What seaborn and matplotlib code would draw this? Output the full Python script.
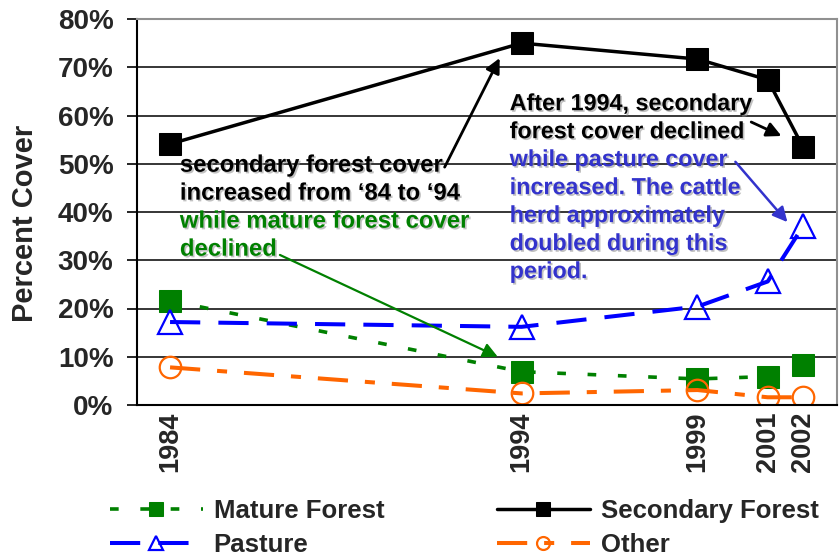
import matplotlib
matplotlib.use("Agg")
import matplotlib.pyplot as plt
import matplotlib.patheffects as pe
import seaborn as sns

# Land cover share (%) by survey year
years = [1984, 1994, 1999, 2001, 2002]
mature_forest = [21.6, 6.9, 5.4, 5.9, 8.3]
secondary_forest = [54.1, 75.0, 71.7, 67.4, 53.5]
pasture = [17.2, 16.2, 20.4, 25.6, 37.0]
other = [7.8, 2.4, 3.1, 1.6, 1.6]

y_ticks = [0, 10, 20, 30, 40, 50, 60, 70, 80]
y_tick_labels = [f"{v}%" for v in y_ticks]
x_tick_labels = [str(y) for y in years]

left_note = [
    ("secondary forest cover", "black"),
    ("increased from \u201884 to \u201894", "black"),
    ("while mature forest cover", "#008000"),
    ("declined", "#008000"),
]
right_note = [
    ("After 1994, secondary", "black"),
    ("forest cover declined", "black"),
    ("while pasture cover", "#3333CC"),
    ("increased. The cattle", "#3333CC"),
    ("herd approximately", "#3333CC"),
    ("doubled during this", "#3333CC"),
    ("period.", "#3333CC"),
]

sns.set_theme(style="white")
plt.rcParams["font.family"] = ["Liberation Sans", "DejaVu Sans"]
plt.rcParams["font.weight"] = "bold"

fig = plt.figure(figsize=(8.39, 5.57), dpi=100)
ax = fig.add_axes([137 / 839, 1 - 405 / 557, 700 / 839, 386 / 557])

series = [
    ("Mature Forest", mature_forest, dict(color="#008000", lw=2.6,
        linestyle=(0, (2.4, 6.0)), marker="s", markersize=16,
        markerfacecolor="#008000", markeredgecolor="#008000")),
    ("Pasture", pasture, dict(color="#0000FF", lw=2.9,
        linestyle=(0, (7.5, 4.5)), marker="^", markersize=17,
        markerfacecolor="none", markeredgecolor="#0000FF", markeredgewidth=1.6)),
    ("Secondary Forest", secondary_forest, dict(color="black", lw=2.5,
        linestyle="-", marker="s", markersize=16,
        markerfacecolor="black", markeredgecolor="black")),
    ("Other", other, dict(color="#FF6600", lw=2.9,
        linestyle=(0, (7.5, 4.2, 2.5, 4.2)), marker="o", markersize=15.5,
        markerfacecolor="none", markeredgecolor="#FF6600", markeredgewidth=1.6)),
]

handles = []
for name, vals, style in series:
    sns.lineplot(x=years, y=vals, ax=ax, label=name, errorbar=None, **style)
    handles.append(ax.get_lines()[-1])

ax.set_xlim(1983.06, 2002.97)
ax.set_ylim(0, 80)
ax.set_yticks(y_ticks)
ax.set_yticklabels(y_tick_labels, fontsize=20, fontweight="bold")
ax.set_xticks(years)
ax.set_xticklabels(x_tick_labels, rotation=90, fontsize=19.5, fontweight="bold")
ax.tick_params(axis="y", direction="out", length=7, width=1.2, color="black", pad=10, left=True)
ax.tick_params(axis="x", length=0, pad=5)
ax.set_xlabel("")
ax.set_ylabel("Percent Cover", fontsize=21, fontweight="bold")
ax.yaxis.set_label_coords(-0.14, 0.47)

ax.set_axisbelow(True)
ax.yaxis.grid(True, color="black", lw=1.1)
ax.xaxis.grid(False)
for side in ("left", "bottom"):
    ax.spines[side].set_color("black")
    ax.spines[side].set_linewidth(1.5)
for side in ("top", "right"):
    ax.spines[side].set_color("#909090")
    ax.spines[side].set_linewidth(1.5)

shadow = [pe.SimplePatchShadow(offset=(1.2, -1.2), shadow_rgbFace="#999999", alpha=0.6), pe.Normal()]

# Annotation text, one line at a time so each line can take its own colour
line_step = 5.8
for i, (txt, col) in enumerate(left_note):
    ax.text(1984.28, 48.35 - i * line_step, txt, color=col, fontsize=17.2,
            fontweight="bold", va="baseline", ha="left", path_effects=shadow, zorder=6)
for i, (txt, col) in enumerate(right_note):
    ax.text(1993.66, 61.1 - i * line_step, txt, color=col, fontsize=16.8,
            fontweight="bold", va="baseline", ha="left", path_effects=shadow, zorder=6)

arrow_specs = [
    ((1991.81, 49.3), (1993.375, 71.9), "black", 2.0),
    ((1987.125, 31.1), (1993.32, 10.0), "#008000", 1.6),
    ((2000.53, 58.65), (2001.39, 55.75), "black", 2.0),
    ((2000.08, 50.4), (2001.56, 37.9), "#3333CC", 1.8),
]
for tail, head, col, lw in arrow_specs:
    ax.annotate("", xy=head, xytext=tail,
                arrowprops=dict(arrowstyle="-|>", color=col, lw=lw,
                                mutation_scale=22, shrinkA=0, shrinkB=0),
                zorder=7)

ax.legend(handles=handles, labels=[s[0] for s in series], ncol=2,
          loc="upper left", bbox_to_anchor=(110 / 839, 1 - 499 / 557),
          bbox_transform=fig.transFigure, frameon=False, borderpad=0,
          borderaxespad=0, handlelength=3.6, handletextpad=0.43,
          columnspacing=4.4, labelspacing=0.4, markerscale=0.6,
          prop=dict(family="Liberation Sans", weight="bold", size=18.5))

fig.savefig("out.png", dpi=100)
